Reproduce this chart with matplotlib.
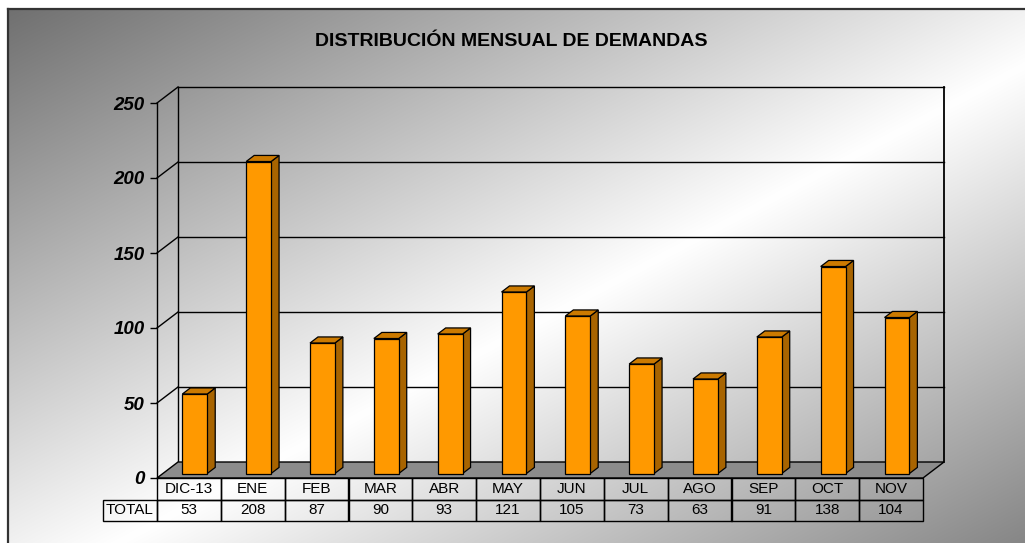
import numpy as np
import matplotlib
matplotlib.use("Agg")
import matplotlib.pyplot as plt
from matplotlib.patches import Polygon, Rectangle

# ---- data ----
categories = ["DIC-13", "ENE", "FEB", "MAR", "ABR", "MAY", "JUN", "JUL", "AGO", "SEP", "OCT", "NOV"]
totals = [53, 208, 87, 90, 93, 121, 105, 73, 63, 91, 138, 104]
y_ticks = [0, 50, 100, 150, 200, 250]
title = "DISTRIBUCIÓN MENSUAL DE DEMANDAS"
row_label = "TOTAL"

plt.rcParams['font.family'] = ['Liberation Sans', 'DejaVu Sans']

W, H = 1025, 543
fig = plt.figure(figsize=(W / 100, H / 100), dpi=100)

# ---- background gradient ----
bg = fig.add_axes([0, 0, 1, 1])
bg.set_xlim(0, W)
bg.set_ylim(H, 0)
bg.axis('off')
xx, yy = np.meshgrid(np.linspace(0, 1, 400), np.linspace(0, 1, 220))
t = (xx + yy) / 2.0
dark1, light, dark2 = 0.44, 1.0, 0.52
g = np.where(t < 0.55, dark1 + (light - dark1) * (t / 0.55),
             light + (dark2 - light) * ((t - 0.55) / 0.45))
img = np.dstack([g, g, g])
bg.imshow(img, extent=(8, W + 5, H + 5, 9), aspect='auto', interpolation='bilinear', zorder=0)
bg.plot([8, 8], [H + 5, 9], color='#333333', lw=1.6, zorder=1)
bg.plot([8, W + 5], [9, 9], color='#333333', lw=1.6, zorder=1)

fig.text(0.499, 1 - 42 / H, title, ha='center', va='center', fontsize=14, fontweight='bold')

# ---- main axes: front plane of the 3D box ----
x0px, x1px, y0px, y1px = 157, 923, 478, 103
ax = fig.add_axes([x0px / W, 1 - y0px / H, (x1px - x0px) / W, (y0px - y1px) / H])
ax.patch.set_alpha(0)
n = len(categories)
ax.set_xlim(-0.5, n - 0.5)
ax.set_ylim(0, 250)
for s in ['top', 'right', 'bottom']:
    ax.spines[s].set_visible(False)
ax.spines['left'].set_color('black')
ax.spines['left'].set_linewidth(1.0)
ax.set_xticks([])
ax.set_yticks(y_ticks)
ax.set_yticklabels([str(v) for v in y_ticks], fontsize=13.5, fontweight='bold', fontstyle='italic')
ax.tick_params(axis='y', length=5, width=1.0, pad=4)

px_per_cat = (x1px - x0px) / n
px_per_val = (y0px - y1px) / 250.0
DX = 21 / px_per_cat
DY = 16 / px_per_val
lc = 'black'
lw = 1.0
xl, xr = -0.5, n - 0.5

# back wall gridlines and box
for v in y_ticks[1:]:
    ax.plot([xl + DX, xr + DX], [v + DY, v + DY], color=lc, lw=lw, clip_on=False, zorder=2)
    ax.plot([xl, xl + DX], [v, v + DY], color=lc, lw=lw, clip_on=False, zorder=2)
ax.plot([xl + DX, xl + DX], [DY, 250 + DY], color=lc, lw=lw, clip_on=False, zorder=2)
ax.plot([xr + DX, xr + DX], [DY, 250 + DY], color=lc, lw=1.3, clip_on=False, zorder=2)

# floor
floor = Polygon([(xl, 0), (xr, 0), (xr + DX, DY), (xl + DX, DY)], closed=True,
                facecolor='#8c8c8c', edgecolor=lc, lw=lw, clip_on=False, zorder=3)
ax.add_patch(floor)

# bars
bw = 0.39
d0, d1 = 0.28, 0.66
fx, fy = d0 * DX, d0 * DY
bx, by = (d1 - d0) * DX, (d1 - d0) * DY
for i, v in enumerate(totals):
    a = i - bw / 2 + fx
    b = i + bw / 2 + fx
    yb = fy
    yt = v + fy
    side = Polygon([(b, yb), (b + bx, yb + by), (b + bx, yt + by), (b, yt)], closed=True,
                   facecolor='#a86400', edgecolor=lc, lw=0.9, clip_on=False, zorder=4)
    top = Polygon([(a, yt), (b, yt), (b + bx, yt + by), (a + bx, yt + by)], closed=True,
                  facecolor='#cc7a00', edgecolor=lc, lw=0.9, clip_on=False, zorder=4)
    ax.add_patch(side)
    ax.add_patch(top)
    ax.bar(i + fx, v, width=bw, bottom=yb, color='#ff9900', edgecolor=lc, lw=0.9,
           clip_on=False, zorder=5)

# ---- data table ----
rh1 = 22 / px_per_val
rh2 = 21 / px_per_val
lab_w = 54 / px_per_cat
for i, (c, v) in enumerate(zip(categories, totals)):
    ax.add_patch(Rectangle((i - 0.5, -rh1), 1, rh1, fill=False, edgecolor=lc, lw=1.0, clip_on=False, zorder=6))
    ax.add_patch(Rectangle((i - 0.5, -rh1 - rh2), 1, rh2, fill=False, edgecolor=lc, lw=1.0, clip_on=False, zorder=6))
    ax.text(i, -rh1 / 2, c, ha='center', va='center', fontsize=11, clip_on=False)
    ax.text(i, -rh1 - rh2 / 2, str(v), ha='center', va='center', fontsize=11, clip_on=False)
ax.add_patch(Rectangle((xl - lab_w, -rh1 - rh2), lab_w, rh2, fill=False, edgecolor=lc, lw=1.0, clip_on=False, zorder=6))
ax.text(xl - lab_w / 2, -rh1 - rh2 / 2, row_label, ha='center', va='center', fontsize=11, clip_on=False)

fig.savefig("out.png", dpi=100)
